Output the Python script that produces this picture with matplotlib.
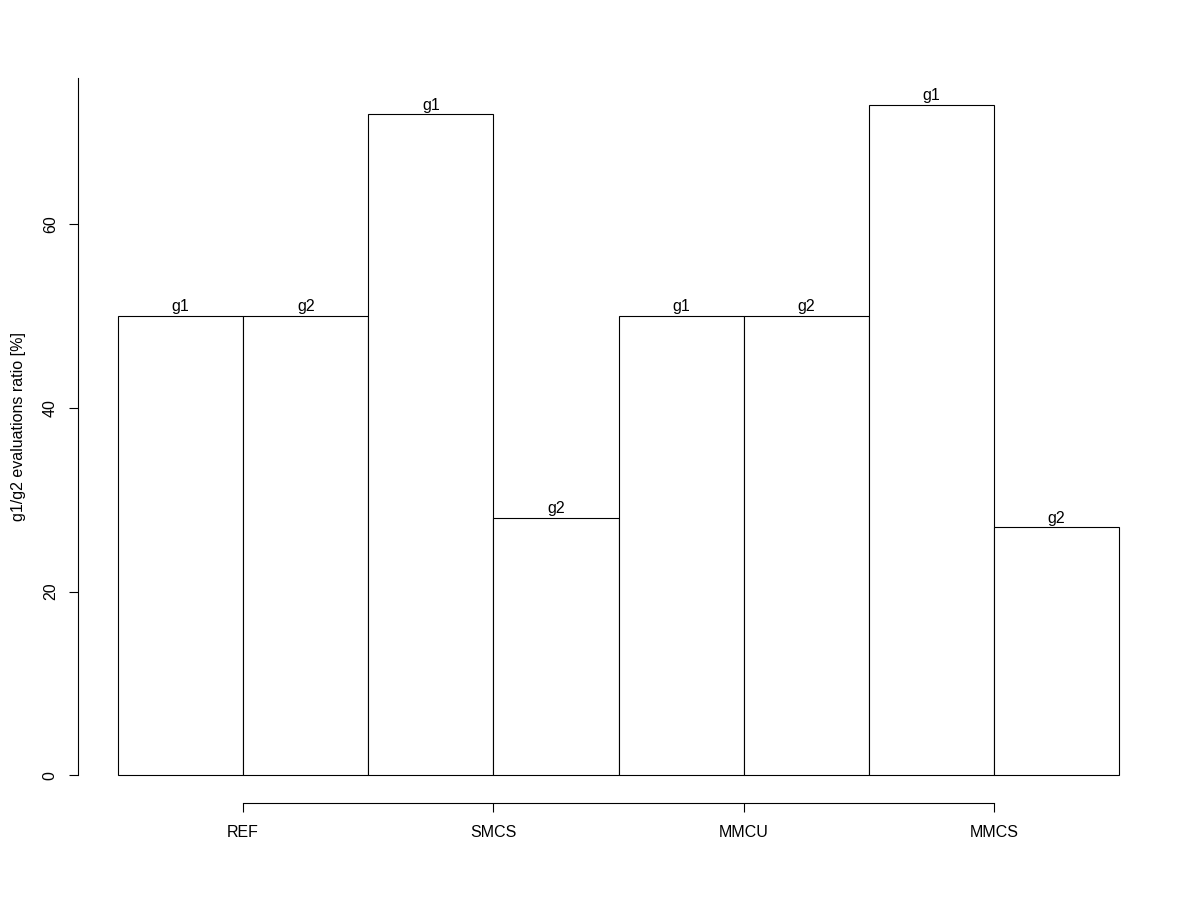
import numpy as np
import matplotlib.pyplot as plt

#---------------------------------Datos------------------------------------
bar_labels = ["g1", "g2", "g1", "g2", "g1", "g2", "g1", "g2"]
values = [50, 50, 72, 28, 50, 50, 73, 27]
groups = ["REF", "SMCS", "MMCU", "MMCS"]
group_pos = [1, 3, 5, 7]
#--------------------------------------------------------------------------

plt.rcParams['font.family'] = ['Liberation Sans', 'DejaVu Sans']
fs = 11.5

fig = plt.figure(figsize=(12, 9), dpi=100)
ax = fig.add_axes([78/1200, (900-803)/900, (1159-78)/1200, (803-50.5)/900])

x = np.arange(len(values))
ax.bar(x, values, width=1, align='edge', facecolor='white', edgecolor='black', linewidth=0.8)
for xi, v, lab in zip(x, values, bar_labels):
    ax.text(xi + 0.5, v + 0.2, lab, ha='center', va='bottom', fontsize=fs)

ymax = max(values) * 1.04
ax.set_xlim(-0.32, 8.32)
ax.set_ylim(-0.04 * ymax, ymax * 1.04)

for s in ['top', 'right']:
    ax.spines[s].set_visible(False)
ax.spines['left'].set_bounds(0, ymax)
ax.spines['bottom'].set_bounds(group_pos[0], group_pos[-1])
ax.spines['left'].set_linewidth(0.8)
ax.spines['bottom'].set_linewidth(0.8)

ax.set_yticks([0, 20, 40, 60])
ax.set_yticklabels(['0', '20', '40', '60'], rotation=90, va='center', fontsize=fs)
ax.set_xticks(group_pos)
ax.set_xticklabels(groups, fontsize=fs)
ax.tick_params(axis='both', length=6.5, width=0.8)
ax.tick_params(axis='y', pad=8)
ax.tick_params(axis='x', pad=9)

ax.set_ylabel('g1/g2 evaluations ratio [%]', fontsize=fs, labelpad=12)

plt.savefig('out.png')
